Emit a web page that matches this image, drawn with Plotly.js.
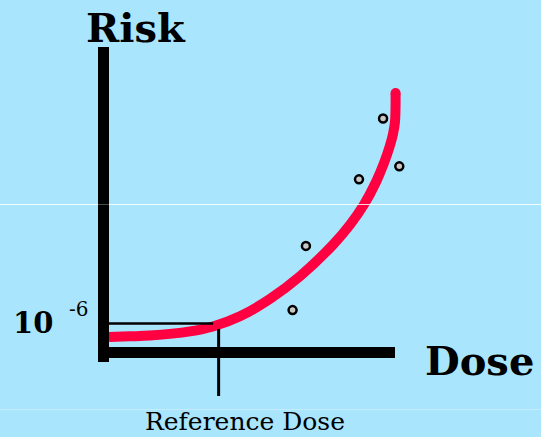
<!DOCTYPE html>
<html>
<head>
<meta charset="utf-8">
<script src="https://cdn.plot.ly/plotly-3.0.1.min.js"></script>
<style>
  html, body { margin: 0; padding: 0; background: #aae5fe; }
  #chart { width: 541px; height: 437px; }
</style>
</head>
<body>
<div id="chart"></div>
<script>
// ---- data (dose / risk in arbitrary chart units) ----
const curveDose = [0.190, 0.914, 1.603, 2.983, 3.776, 4.707, 5.741, 6.776, 7.914, 8.500, 8.983, 9.397, 9.672, 9.879, 9.983, 10.052, 10.072];
const curveRisk = [0.596, 0.621, 0.650, 0.812, 1.000, 1.392, 2.062, 2.935, 4.146, 4.915, 5.692, 6.558, 7.288, 7.965, 8.404, 8.885, 9.981];
const obsDose = [9.64, 10.20, 8.81, 6.98, 6.52];
const obsRisk = [9.00, 7.16, 6.66, 4.10, 1.63];
const refDose = 3.97;     // "Reference Dose"
const riskLevel = 1.115;  // 10^-6 risk level
const labels = { y: 'Risk', x: 'Dose', base: '10', exp: '-6', ref: 'Reference Dose' };

// ---- geometry helpers (pixel <-> data) ----
const W = 541, H = 437;
const OX = 103.5, OY = 352.5, SX = 29, SY = 26;
const dx = p => (p - OX) / SX;
const dy = p => (OY - p) / SY;
const px = p => p / W;
const py = p => 1 - p / H;

const bg = '#aae5fe';
const red = '#ff0040';
const serif = 'DejaVu Serif, serif';

const traces = [
  { x: curveDose, y: curveRisk, mode: 'lines', hoverinfo: 'skip',
    line: { color: red, width: 10, shape: 'spline', smoothing: 1 } },
  { x: [curveDose[curveDose.length - 1]], y: [curveRisk[curveRisk.length - 1]], mode: 'markers', hoverinfo: 'skip',
    marker: { color: red, size: 10, line: { width: 0 } } },
  { x: obsDose, y: obsRisk, mode: 'markers', hoverinfo: 'skip',
    marker: { color: '#c8c8c8', size: 8, line: { color: '#000', width: 2.5 } } }
];

const shapes = [
  { type: 'line', xref: 'paper', yref: 'paper', x0: 0, x1: 1, y0: py(204.5), y1: py(204.5), layer: 'above',
    line: { color: 'rgba(255,255,255,0.85)', width: 1 } },
  { type: 'line', xref: 'paper', yref: 'paper', x0: 0, x1: 1, y0: py(409.5), y1: py(409.5), layer: 'above',
    line: { color: 'rgba(255,255,255,0.3)', width: 1 } },
  // risk axis bar
  { type: 'rect', x0: dx(98), x1: dx(109), y0: dy(362), y1: dy(47), layer: 'above',
    fillcolor: '#000', line: { width: 0 } },
  // dose axis bar
  { type: 'rect', x0: dx(98), x1: dx(395), y0: dy(358), y1: dy(347), layer: 'above',
    fillcolor: '#000', line: { width: 0 } },
  // faint screen line over the risk bar
  { type: 'line', x0: dx(98), x1: dx(109), yref: 'paper', y0: py(204.5), y1: py(204.5), layer: 'above',
    line: { color: '#4a4a4a', width: 1 } },
  // risk level line
  { type: 'line', x0: dx(109), x1: refDose - 0.19, y0: riskLevel, y1: riskLevel, layer: 'above',
    line: { color: '#000', width: 2.5 } },
  // reference dose tick
  { type: 'line', x0: refDose, x1: refDose, y0: dy(329), y1: dy(396), layer: 'above',
    line: { color: '#000', width: 3 } }
];

function ann(text, x, y, size) {
  return { text: text, xref: 'paper', yref: 'paper', x: px(x), y: py(y),
    xanchor: 'center', yanchor: 'middle', showarrow: false,
    font: { family: serif, size: size, color: '#000' } };
}

const annotations = [
  ann('<b>' + labels.y + '</b>', 135.5, 27.5, 40),
  ann('<b>' + labels.x + '</b>', 479.5, 360.5, 40),
  ann('<b>' + labels.base + '</b>', 32.5, 323, 29),
  ann(labels.exp, 78, 309.3, 20),
  ann(labels.ref, 244.5, 421.7, 25)
];

const layout = {
  width: W, height: H, autosize: false,
  margin: { l: 0, r: 0, t: 0, b: 0, pad: 0 },
  paper_bgcolor: bg, plot_bgcolor: bg,
  showlegend: false,
  xaxis: { range: [dx(0), dx(W)], showgrid: false, zeroline: false, showticklabels: false, showline: false, ticks: '', fixedrange: true },
  yaxis: { range: [dy(H), dy(0)], showgrid: false, zeroline: false, showticklabels: false, showline: false, ticks: '', fixedrange: true },
  shapes: shapes,
  annotations: annotations
};

Plotly.newPlot('chart', traces, layout, { displayModeBar: false, staticPlot: true });
</script>
</body>
</html>
